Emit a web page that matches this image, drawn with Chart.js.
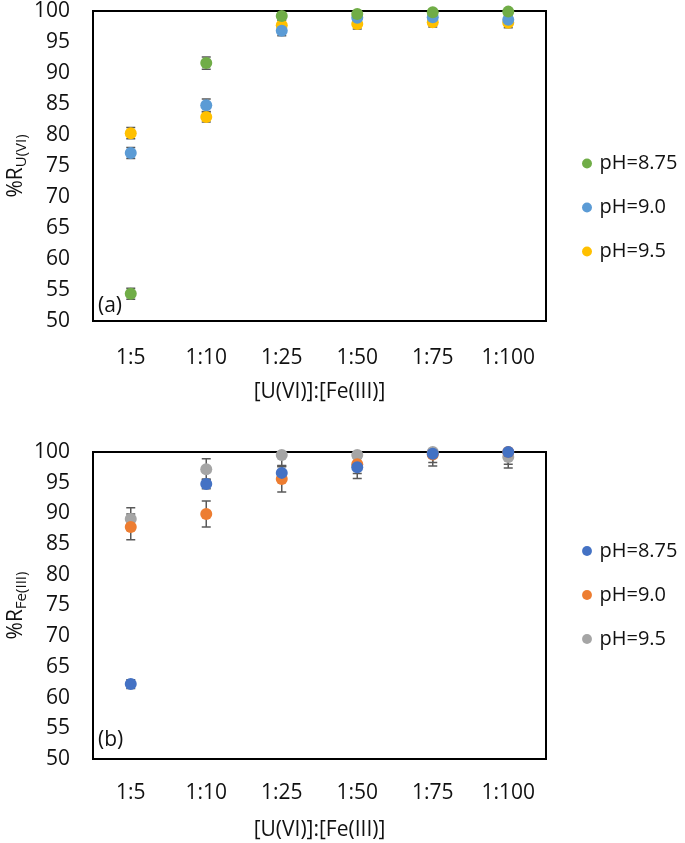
<!DOCTYPE html>
<html>
<head>
<meta charset="utf-8">
<script src="https://cdn.jsdelivr.net/npm/chart.js@4.4.0/dist/chart.umd.min.js"></script>
<style>
  body { margin: 0; background: #fff; width: 685px; height: 843px; position: relative; overflow: hidden; }
  canvas { position: absolute; left: 0; }
  #chartA { top: 0; }
  #chartB { top: 347px; }
</style>
</head>
<body>
<canvas id="chartA" width="685" height="415"></canvas>
<canvas id="chartB" width="685" height="496"></canvas>
<script>
// categories
const ratioLabels = ["1:5", "1:10", "1:25", "1:50", "1:75", "1:100"];
const phLabels = ["pH=8.75", "pH=9.0", "pH=9.5"];

// (a) %R U(VI)
const uPh875 = [54.4, 91.6, 99.2, 99.5, 99.8, 99.9];
const uPh90  = [77.1, 84.8, 96.8, 98.9, 99.0, 98.6];
const uPh95  = [80.3, 82.9, 97.7, 97.9, 98.2, 98.1];
const uErr875 = [0.9, 1.0, 0.4, 0.3, 0.3, 0.3];
const uErr90  = [0.9, 1.0, 0.8, 0.7, 0.6, 0.6];
const uErr95  = [0.9, 0.8, 0.8, 0.8, 0.8, 0.8];

// (b) %R Fe(III)
const fePh875 = [62.2, 94.8, 96.6, 97.5, 99.7, 100];
const fePh90  = [87.8, 89.9, 95.6, 98.0, 99.6, 100];
const fePh95  = [89.1, 97.2, 99.5, 99.5, 100, 99.2];
const feErr875 = [0.7, 0.8, 1.0, 1.8, 0.6, 0.3];
const feErr90  = [2.1, 2.1, 2.1, 1.5, 1.3, 2.0];
const feErr95  = [1.8, 1.7, 1.7, 0.5, 2.3, 1.8];

const FONT = "'Open Sans', 'Noto Sans', sans-serif";
const TXT = '#111';

// frame round the plot + error bars under the points (clipped to the plot like excel)
const frameAndErrors = {
    id: 'frameAndErrors',
    beforeDatasetsDraw(chart) {
        const ctx = chart.ctx, a = chart.chartArea, y = chart.scales.y;
        ctx.save();
        ctx.strokeStyle = '#000';
        ctx.lineWidth = 2;
        ctx.strokeRect(a.left, a.top, a.right - a.left, a.bottom - a.top);
        ctx.restore();

        ctx.save();
        ctx.beginPath();
        ctx.rect(a.left, a.top, a.right - a.left, a.bottom - a.top);
        ctx.clip();
        ctx.strokeStyle = '#595959';
        ctx.lineWidth = 1.5;
        chart.data.datasets.forEach((ds, i) => {
            chart.getDatasetMeta(i).data.forEach((pt, j) => {
                const e = ds.errors[j];
                const yt = y.getPixelForValue(ds.data[j] + e);
                const yb = y.getPixelForValue(ds.data[j] - e);
                ctx.beginPath();
                ctx.moveTo(pt.x, yt); ctx.lineTo(pt.x, yb);
                ctx.moveTo(pt.x - 4.5, yt); ctx.lineTo(pt.x + 4.5, yt);
                ctx.moveTo(pt.x - 4.5, yb); ctx.lineTo(pt.x + 4.5, yb);
                ctx.stroke();
            });
        });
        ctx.restore();
    }
};

// y title with subscript and the (a)/(b) tag
const sideTexts = {
    id: 'sideTexts',
    afterDraw(chart, args, opts) {
        const ctx = chart.ctx, a = chart.chartArea;
        ctx.save();
        ctx.fillStyle = TXT;
        ctx.font = '21px ' + FONT;
        const mainW = ctx.measureText('%R').width;
        ctx.font = '15px ' + FONT;
        const subW = ctx.measureText(opts.sub).width;
        ctx.translate(22, (a.top + a.bottom) / 2);
        ctx.rotate(-Math.PI / 2);
        ctx.textBaseline = 'alphabetic';
        ctx.textAlign = 'left';
        const x0 = -(mainW + subW) / 2;
        ctx.font = '21px ' + FONT;
        ctx.fillText('%R', x0, 0);
        ctx.font = '15px ' + FONT;
        ctx.fillText(opts.sub, x0 + mainW, 4);
        ctx.restore();

        ctx.save();
        ctx.fillStyle = TXT;
        ctx.font = '21px ' + FONT;
        ctx.textBaseline = 'middle';
        ctx.fillText(opts.tag, a.left + 5, a.bottom - opts.tagUp);
        ctx.restore();
    }
};

// fixed legend width so the legend column sits where excel put it
const legendWidth = {
    id: 'legendWidth',
    afterInit(chart, args, opts) {
        const lg = chart.legend;
        const fit = lg.fit;
        lg.fit = function () {
            fit.call(this);
            this.width = opts.width;
        };
    }
};

function makeChart(id, series, errs, colors, sub, tag, tagUp, topGap, canvasH, plotBottom, tickPad, titlePadBottom) {
    const datasets = series.map((s, i) => ({
        label: phLabels[i],
        data: s,
        errors: errs[i],
        showLine: false,
        pointRadius: 6,
        pointBorderWidth: 0,
        backgroundColor: colors[i],
        borderColor: colors[i],
        clip: false
    }));
    return new Chart(document.getElementById(id), {
        type: 'line',
        data: { labels: ratioLabels, datasets },
        options: {
            responsive: false,
            devicePixelRatio: 1,
            animation: false,
            events: [],
            layout: { padding: 0 },
            scales: {
                x: {
                    type: 'category',
                    offset: true,
                    grid: { display: false, drawTicks: false },
                    border: { display: false },
                    ticks: { color: TXT, font: { family: FONT, size: 21 }, padding: tickPad },
                    title: {
                        display: true,
                        text: '[U(VI)]:[Fe(III)]',
                        color: TXT,
                        font: { family: FONT, size: 21 },
                        padding: { top: 0, bottom: titlePadBottom }
                    },
                    afterFit(s) { s.height = canvasH - plotBottom; }
                },
                y: {
                    min: 50, max: 100,
                    grid: { display: false, drawTicks: false },
                    border: { display: false },
                    ticks: { stepSize: 5, color: TXT, font: { family: FONT, size: 21, lineHeight: 1 }, padding: 23 },
                    afterFit(s) {
                        s.width = 93;
                        s.paddingTop = 0;
                        s.paddingBottom = 0;
                    }
                },
                gapTop: {
                    type: 'linear', position: 'top', min: 0, max: 1,
                    grid: { display: false }, border: { display: false }, ticks: { display: false },
                    afterFit(s) { s.height = topGap; }
                },
                gapRight: {
                    type: 'linear', position: 'right', min: 0, max: 1,
                    grid: { display: false }, border: { display: false }, ticks: { display: false },
                    afterFit(s) { s.width = 14.5; }
                }
            },
            plugins: {
                tooltip: { enabled: false },
                legend: {
                    position: 'right',
                    align: 'center',
                    labels: {
                        usePointStyle: true,
                        pointStyle: 'circle',
                        boxWidth: 5,
                        boxHeight: 7,
                        padding: 24,
                        color: TXT,
                        font: { family: FONT, size: 20 }
                    }
                },
                legendWidth: { width: 124.5 },
                sideTexts: { sub: sub, tag: tag, tagUp: tagUp }
            }
        },
        plugins: [legendWidth, frameAndErrors, sideTexts]
    });
}

makeChart('chartA', [uPh875, uPh90, uPh95], [uErr875, uErr90, uErr95],
    ['#70AD47', '#5B9BD5', '#FFC000'], 'U(VI)', '(a)', 15, 11, 415, 321, 24, 10);
makeChart('chartB', [fePh875, fePh90, fePh95], [feErr875, feErr90, feErr95],
    ['#4472C4', '#ED7D31', '#A5A5A5'], 'Fe(III)', '(b)', 19, 105, 496, 412, 21, 0);
</script>
</body>
</html>
